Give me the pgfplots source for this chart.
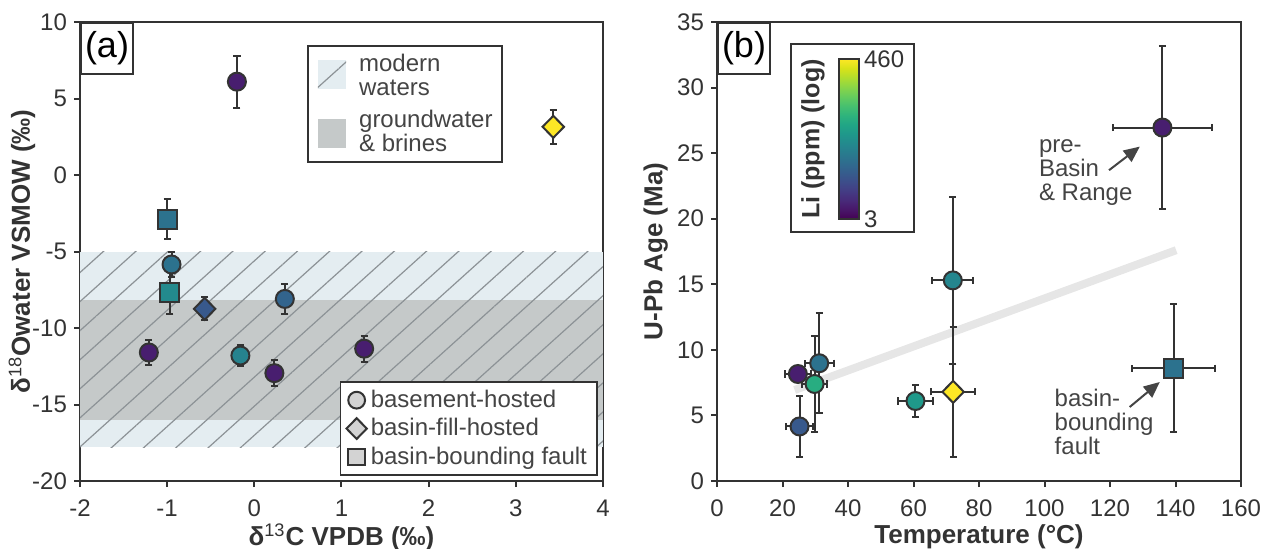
\documentclass[border=0pt]{standalone}
\usepackage{fontspec}
\setmainfont{Liberation Sans}
\usepackage{pgfplots}
\pgfplotsset{compat=1.18}
\usetikzlibrary{patterns.meta, arrows.meta}

\definecolor{axgray}{HTML}{333333}
\definecolor{txtgray}{HTML}{444444}
\definecolor{modernblue}{HTML}{E4EDF1}
\definecolor{brinegray}{HTML}{C5C9C9}
\definecolor{hatch}{HTML}{8C9296}
\definecolor{trend}{HTML}{E6E6E6}
\definecolor{legfill}{HTML}{D3D3D3}

\newcommand{\tickfont}{\fontsize{12}{14}\selectfont}
\newcommand{\labfont}{\bfseries\fontsize{13}{15}\selectfont}

\pgfplotsset{
  panel/.style={
    scale only axis, width=261.5pt, height=229.5pt,
    axis line style={axgray, line width=1pt},
    tick style={axgray, line width=1pt},
    major tick length=3pt, tick align=outside,
    xtick pos=lower, ytick pos=left,
    tick label style={font=\tickfont, text=axgray},
    xticklabel style={yshift=-3pt},
    label style={font=\labfont, text=axgray},
    /pgf/number format/assume math mode=true,
    clip=false,
    colormap/viridis,
    point meta min=0.4771, point meta max=2.6628,
  },
  pts/.style={
    only marks, scatter, line width=1pt,
    scatter/use mapped color={draw=axgray, fill=mapped color},
    forget plot,
    error bars/error bar style={axgray, line width=1pt},
    error bars/error mark options={rotate=90, axgray, line width=1pt, mark size=1.8pt},
  },
}

% panel (a): d13C, d18O, y error, Li (ppm)
\pgfplotstableread{
x y ey li
-0.20 6.10 1.70 4.5
-0.95 -5.85 0.80 20
0.35 -8.10 1.00 15
-1.21 -11.60 0.80 4.5
-0.16 -11.80 0.70 28
0.23 -12.95 0.85 4.5
1.26 -11.35 0.85 4.5
}\aCirc
\pgfplotstableread{
x y ey li
-1.00 -2.90 1.30 20
-0.97 -7.70 1.40 33
}\aSq
\pgfplotstableread{
x y ey li
-0.57 -8.75 0.75 12
3.43 3.15 1.10 460
}\aDia

% panel (b): temperature, age, errors, Li (ppm)
\pgfplotstableread{
x y ex ey li
136.0 26.95 15.0 6.2 4.5
72.0 15.30 6.3 6.35 30
60.6 6.10 5.3 1.2 45
31.2 8.98 4.4 3.8 20
29.8 7.40 3.8 3.67 68
24.7 8.16 4.0 0 4.5
25.2 4.16 4.1 2.3 12
}\bCirc
\pgfplotstableread{
x y ex ey li
139.4 8.60 12.7 4.9 20
}\bSq
\pgfplotstableread{
x y ex ey li
72.1 6.80 6.8 4.95 460
}\bDia

\begin{document}
\begin{tikzpicture}
\useasboundingbox (-40pt,-33.5pt) rectangle (591pt,240.5pt);

%% ---------------- (a)
\begin{axis}[panel,
  xmin=-2, xmax=4, ymin=-20, ymax=10,
  xtick={-2,...,4}, ytick={-20,-15,...,10},
  xlabel={δ{\mdseries\textsuperscript{13}}C VPDB (‰)},
  ylabel={δ{\mdseries\textsuperscript{18}}Owater VSMOW (‰)},
  xlabel style={at={(axis description cs:0.5,-0.122)}, anchor=center},
  ylabel style={at={(axis description cs:-0.111,0.5)}, anchor=center},
  legend style={at={(0.99,0.011)}, anchor=south east, draw=axgray,
    line width=0.8pt, font=\tickfont, text=txtgray, row sep=0pt,
    inner xsep=3pt, inner ysep=2pt, cells={anchor=west}},
  legend cell align=left,
]
\addplot[fill=modernblue, draw=none, forget plot] coordinates {(-2,-5) (4,-5) (4,-17.8) (-2,-17.8)} -- cycle;
\addplot[fill=brinegray, draw=none, forget plot] coordinates {(-2,-8.2) (4,-8.2) (4,-16.0) (-2,-16.0)} -- cycle;
\addplot[pattern={Lines[angle=42, distance=10.8pt, line width=0.6pt]}, pattern color=hatch, draw=none, forget plot]
  coordinates {(-2,-5) (4,-5) (4,-17.8) (-2,-17.8)} -- cycle;

\addplot[pts, mark=*, mark size=4.5pt, point meta={log10(\thisrow{li})},
  error bars/.cd, y dir=both, y explicit] table[x=x, y=y, y error=ey] {\aCirc};
\addplot[pts, mark=square*, mark size=4.8pt, point meta={log10(\thisrow{li})},
  error bars/.cd, y dir=both, y explicit] table[x=x, y=y, y error=ey] {\aSq};
\addplot[pts, mark=diamond*, mark size=5.5pt, mark options={xscale=1.3}, point meta={log10(\thisrow{li})},
  error bars/.cd, y dir=both, y explicit] table[x=x, y=y, y error=ey] {\aDia};

\addlegendimage{only marks, mark=*, mark size=4.2pt, mark options={fill=legfill, draw=axgray, line width=1pt}}
\addlegendentry{basement-hosted}
\addlegendimage{only marks, mark=diamond*, mark size=5.2pt, mark options={xscale=1.3, fill=legfill, draw=axgray, line width=1pt}}
\addlegendentry{basin-fill-hosted}
\addlegendimage{only marks, mark=square*, mark size=4.2pt, mark options={fill=legfill, draw=axgray, line width=1pt}}
\addlegendentry{basin-bounding fault}

% water-type key
\draw[axgray, line width=0.8pt, fill=white] (rel axis cs:0.436,0.695) rectangle (rel axis cs:0.807,0.948);
\fill[modernblue] (rel axis cs:0.455,0.854) rectangle (rel axis cs:0.509,0.917);
\fill[pattern={Lines[angle=42, distance=10.8pt, line width=0.6pt]}, pattern color=hatch]
  (rel axis cs:0.455,0.854) rectangle (rel axis cs:0.509,0.917);
\fill[brinegray] (rel axis cs:0.455,0.725) rectangle (rel axis cs:0.509,0.789);
\node[anchor=west, align=left, font=\fontsize{12}{12}\selectfont, text=txtgray, inner sep=0pt]
  at (rel axis cs:0.533,0.885) {modern\\waters};
\node[anchor=west, align=left, font=\fontsize{12}{12}\selectfont, text=txtgray, inner sep=0pt]
  at (rel axis cs:0.533,0.763) {groundwater\\\& brines};

\node[draw=axgray, line width=1pt, fill=white, anchor=north west, minimum width=26pt,
  minimum height=25.5pt, inner sep=0pt, font=\fontsize{18}{20}\selectfont]
  at (rel axis cs:0,1) {(a)};
\end{axis}

%% ---------------- (b)
\begin{axis}[panel, at={(318.5pt,0pt)}, width=262pt,
  xmin=0, xmax=160, ymin=0, ymax=35,
  xtick={0,20,...,160}, ytick={0,5,...,35},
  xlabel={Temperature (°C)}, ylabel={U-Pb Age (Ma)},
  xlabel style={at={(axis description cs:0.5,-0.122)}, anchor=center},
  ylabel style={at={(axis description cs:-0.117,0.5)}, anchor=center},
  colorbar,
  colorbar shift/.style={xshift=61pt, yshift=131pt},
  colorbar style={
    at={(parent axis.south west)}, anchor=south west,
    scale only axis, width=10pt, height=80pt,
    ytick={0.4771,2.6628}, yticklabels={3,460},
    major tick length=0pt,
    yticklabel style={font=\tickfont, text=axgray, xshift=-1pt},
    axis line style={axgray, line width=0.8pt},
  },
]
\addplot[trend, line width=4pt, forget plot] coordinates {(23.7,6.94) (140.2,17.6)};

\draw[axgray, line width=0.8pt, fill=white] (rel axis cs:0.141,0.542) rectangle (rel axis cs:0.376,0.952);
\node[rotate=90, font=\bfseries\fontsize{12.5}{14}\selectfont, text=axgray]
  at (rel axis cs:0.183,0.745) {Li (ppm) (log)};

\addplot[pts, mark=*, mark size=4.5pt, point meta={log10(\thisrow{li})},
  error bars/.cd, x dir=both, x explicit, y dir=both, y explicit]
  table[x=x, y=y, x error=ex, y error=ey] {\bCirc};
\addplot[pts, mark=square*, mark size=4.8pt, point meta={log10(\thisrow{li})},
  error bars/.cd, x dir=both, x explicit, y dir=both, y explicit]
  table[x=x, y=y, x error=ex, y error=ey] {\bSq};
\addplot[pts, mark=diamond*, mark size=5.5pt, mark options={xscale=1.3}, point meta={log10(\thisrow{li})},
  error bars/.cd, x dir=both, x explicit, y dir=both, y explicit]
  table[x=x, y=y, x error=ex, y error=ey] {\bDia};

\node[anchor=west, align=left, font=\fontsize{12}{12}\selectfont, text=txtgray, inner sep=0pt]
  at (axis cs:98.2,23.5) {pre-\\Basin\\\& Range};
\draw[txtgray, line width=1pt, -{Triangle[length=8pt, width=7pt]}]
  (axis cs:119.7,23.7) -- (axis cs:129.1,25.5);
\node[anchor=west, align=left, font=\fontsize{12}{12}\selectfont, text=txtgray, inner sep=0pt]
  at (axis cs:103,4.5) {basin-\\bounding\\fault};
\draw[txtgray, line width=1pt, -{Triangle[length=8pt, width=7pt]}]
  (axis cs:126,5.64) -- (axis cs:135.2,7.55);

\node[draw=axgray, line width=1pt, fill=white, anchor=north west, minimum width=26pt,
  minimum height=25.5pt, inner sep=0pt, font=\fontsize{18}{20}\selectfont]
  at (rel axis cs:0,1) {(b)};
\end{axis}
\end{tikzpicture}
\end{document}
